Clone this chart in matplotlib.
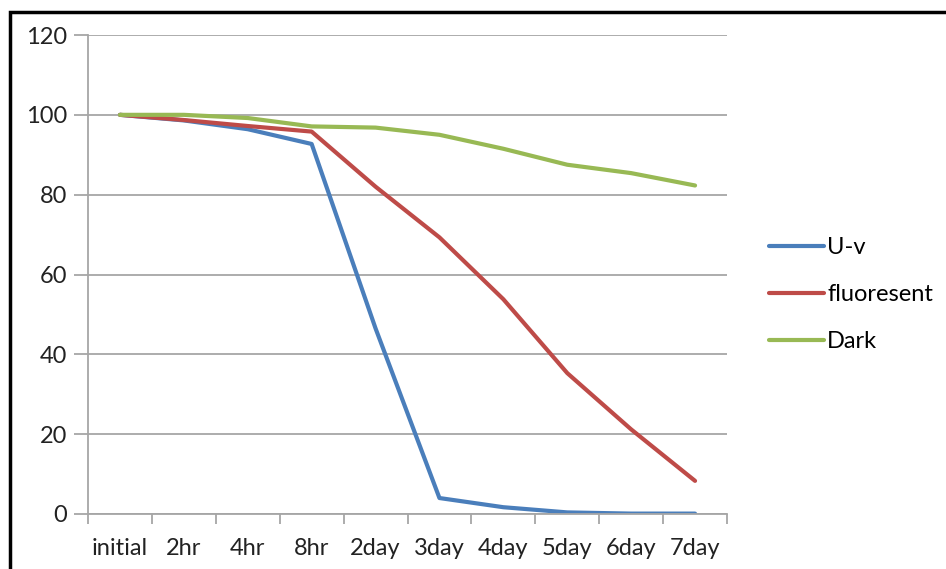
import matplotlib
matplotlib.use("Agg")
import matplotlib.pyplot as plt
from matplotlib.patches import Rectangle
import numpy as np

categories = ["initial", "2hr", "4hr", "8hr", "2day", "3day", "4day", "5day", "6day", "7day"]
uv = [100, 98.6, 96.4, 92.7, 46.5, 4.0, 1.7, 0.4, 0.1, 0.1]
fluoresent = [100, 98.7, 97.2, 95.8, 82.0, 69.3, 53.8, 35.3, 21.2, 8.3]
dark = [100, 100, 99.2, 97.1, 96.8, 95.0, 91.5, 87.5, 85.4, 82.3]
series_names = ["U-v", "fluoresent", "Dark"]
yticks = [0, 20, 40, 60, 80, 100, 120]

plt.rcParams['font.family'] = ['Lato', 'DejaVu Sans']
FS = 17

fig = plt.figure(figsize=(9.46, 5.69), dpi=100)
ax = fig.add_axes([88/946, 1-514/569, (727-88)/946, (514-35)/569])

x = np.arange(len(categories))
colors = ["#4A7EBB", "#BE4B48", "#98B954"]
for vals, name, c in zip([uv, fluoresent, dark], series_names, colors):
    ax.plot(x, vals, color=c, lw=3.0, label=name, solid_joinstyle='round', solid_capstyle='round')

ax.set_xlim(-0.5, len(categories) - 0.5)
ax.set_ylim(0, 120)
ax.set_yticks(yticks)
ax.set_yticklabels([str(v) for v in yticks])
ax.yaxis.grid(True, color="#A6A6A6", lw=1.3)
ax.set_axisbelow(True)

ax.set_xticks(x)
ax.set_xticklabels(categories)
ax.set_xticks(np.arange(-0.5, len(categories)), minor=True)
ax.tick_params(axis='x', which='major', length=0, pad=17, labelsize=FS, colors='#222222')
ax.tick_params(axis='x', which='minor', length=7, width=1.3, color='#A6A6A6')
ax.tick_params(axis='y', length=10, width=1.3, color='#A6A6A6', pad=5, labelsize=FS, labelcolor='#222222')

for s in ['top', 'right']:
    ax.spines[s].set_visible(False)
for s in ['left', 'bottom']:
    ax.spines[s].set_color('#A6A6A6')
    ax.spines[s].set_linewidth(1.3)

leg = fig.legend(loc='upper left', bbox_to_anchor=(760/946, 1-228/569), frameon=False,
                 fontsize=FS, handlelength=2.3, handletextpad=0.15, labelspacing=1.1,
                 borderaxespad=0)

# outer frame (extends beyond right and bottom edges)
fig.patches.append(Rectangle((10/946, -0.1), 1.2, 1 - 12/569 + 0.1, transform=fig.transFigure,
                             fill=False, edgecolor='black', lw=2.5))

fig.savefig("out.png", dpi=100, facecolor='white')
